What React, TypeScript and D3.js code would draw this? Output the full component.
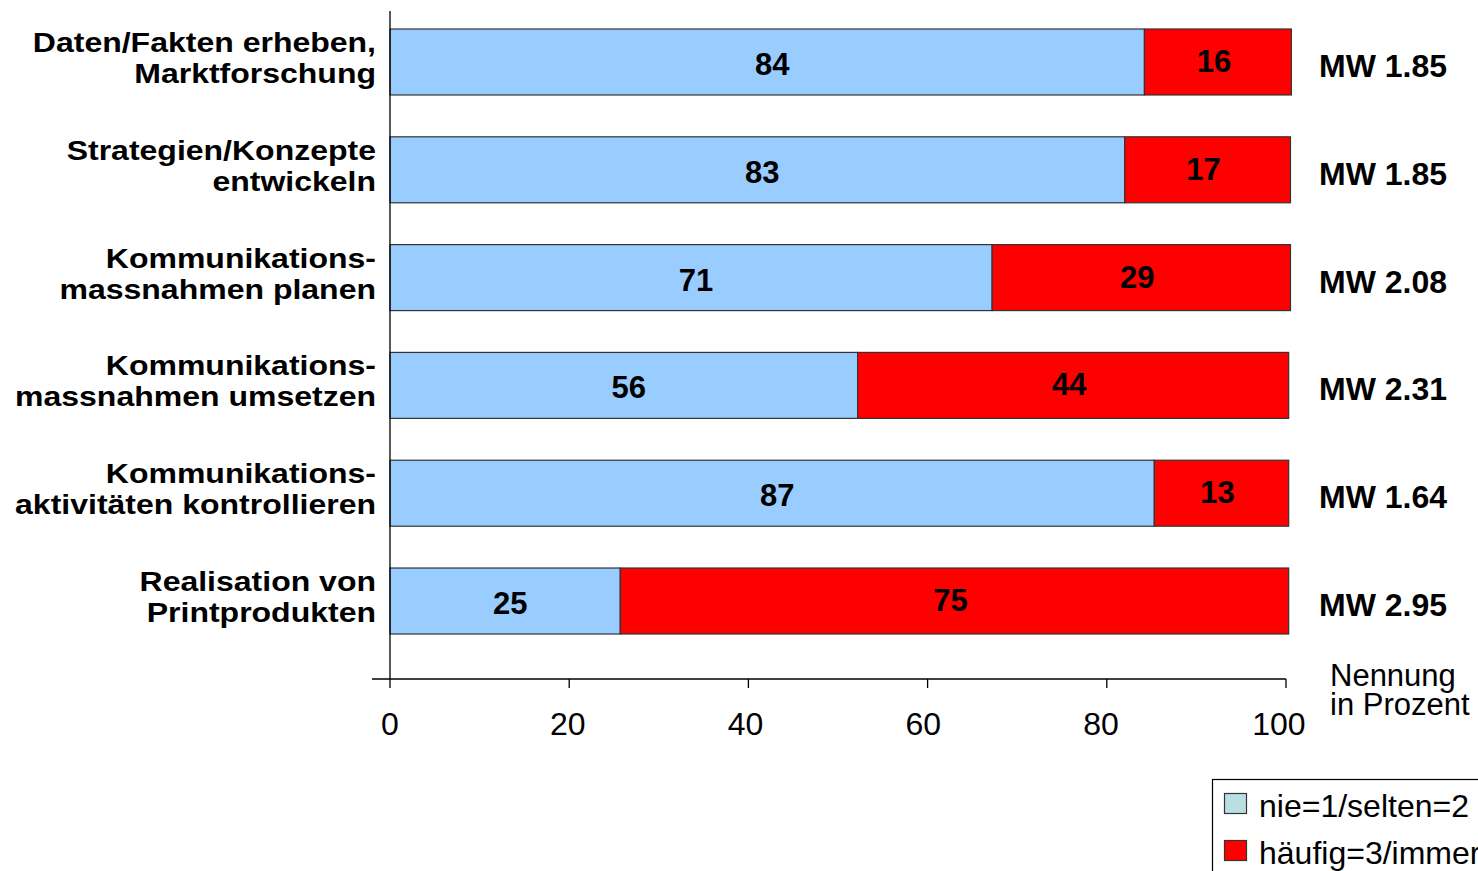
import * as d3 from 'd3';

// rows, top to bottom
const categories = [
  ['Daten/Fakten erheben,', 'Marktforschung'],
  ['Strategien/Konzepte', 'entwickeln'],
  ['Kommunikations-', 'massnahmen planen'],
  ['Kommunikations-', 'massnahmen umsetzen'],
  ['Kommunikations-', 'aktivitäten kontrollieren'],
  ['Realisation von', 'Printprodukten'],
];
// printed shares
const lowLabels = [84, 83, 71, 56, 87, 25];
const highLabels = [16, 17, 29, 44, 13, 75];
// segment lengths as drawn in the source (they do not match the printed numbers exactly)
const lowBar = [84.2, 82.0, 67.2, 52.2, 85.3, 25.7];
const highBar = [16.4, 18.5, 33.3, 48.1, 15.0, 74.6];
const meanValues = ['1.85', '1.85', '2.08', '2.31', '1.64', '2.95'];
const xTicks = [0, 20, 40, 60, 80, 100];
const legendItems = ['nie=1/selten=2', 'häufig=3/immer'];

const FONT = '"Liberation Sans", Arial, sans-serif';
const BLUE = '#99ccff';
const RED = '#ff0000';
const LEGEND_BLUE = '#b9dfe2';

function App() {
  const x = d3.scaleLinear().domain([0, 100]).range([390, 1286]);
  const y = d3
    .scaleBand<number>()
    .domain(d3.range(categories.length))
    .range([29, 634])
    .paddingInner(0.388)
    .paddingOuter(0);
  const bh = y.bandwidth();
  const axisY = 679;

  return (
    <svg
      width={1478}
      height={871}
      style={{ position: 'absolute', left: 0, top: 0, background: '#fff' }}
      fontFamily={FONT}
    >
      {categories.map((lines, i) => {
        const top = y(i) as number;
        const c = top + bh / 2;
        const xLow = x(lowBar[i]);
        const xEnd = x(lowBar[i] + highBar[i]);
        return (
          <g key={i}>
            <rect x={x(0)} y={top} width={xLow - x(0)} height={bh} fill={BLUE} stroke="#333" strokeWidth={1.2} />
            <rect x={xLow} y={top} width={xEnd - xLow} height={bh} fill={RED} stroke="#333" strokeWidth={1.2} />
            <text x={(x(0) + xLow) / 2 + 5} y={c + 13} textAnchor="middle" fontSize={31} fontWeight="bold">
              {lowLabels[i]}
            </text>
            <text x={(xLow + xEnd) / 2 - 4} y={c + 10} textAnchor="middle" fontSize={31} fontWeight="bold">
              {highLabels[i]}
            </text>
            <text x={x(100) + 33} y={c + 15} fontSize={32} fontWeight="bold">
              {'MW ' + meanValues[i]}
            </text>
            {lines.map((t, k) => (
              <text
                key={k}
                transform={`translate(376,${c + (k === 0 ? -10 : 21)}) scale(1,0.84)`}
                textAnchor="end"
                fontSize={32}
                fontWeight="bold"
              >
                {t}
              </text>
            ))}
          </g>
        );
      })}

      {/* axes */}
      <line x1={x(0)} x2={x(0)} y1={11} y2={axisY} stroke="#000" strokeWidth={1.3} />
      <line x1={372} x2={x(100)} y1={axisY} y2={axisY} stroke="#000" strokeWidth={1.3} />
      {xTicks.map((t) => (
        <g key={t}>
          <line x1={x(t)} x2={x(t)} y1={axisY} y2={axisY + 9} stroke="#000" strokeWidth={1.3} />
          <text x={x(t) - t / 14} y={735} textAnchor="middle" fontSize={32}>
            {t}
          </text>
        </g>
      ))}
      <text x={1330} y={686} fontSize={31}>Nennung</text>
      <text x={1330} y={715} fontSize={31}>in Prozent</text>

      {/* legend */}
      <rect x={1212.5} y={779.5} width={300} height={120} fill="#fff" stroke="#000" strokeWidth={1.2} />
      {legendItems.map((t, i) => (
        <g key={t}>
          <rect
            x={1224.5}
            y={793.5 + i * 47}
            width={22}
            height={20}
            fill={i === 0 ? LEGEND_BLUE : RED}
            stroke="#333"
            strokeWidth={1.2}
          />
          <text x={1259} y={817 + i * 47} fontSize={32}>
            {t}
          </text>
        </g>
      ))}
    </svg>
  );
}

export default App;
